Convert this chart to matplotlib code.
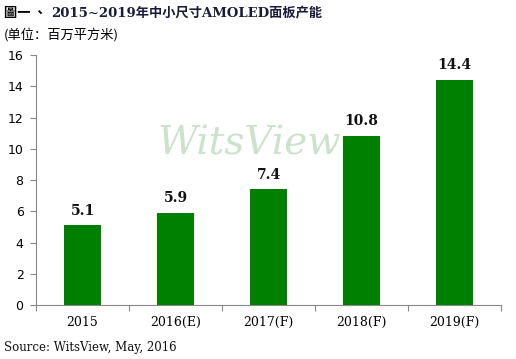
import matplotlib
matplotlib.use("Agg")
import matplotlib.pyplot as plt

categories = ["2015", "2016(E)", "2017(F)", "2018(F)", "2019(F)"]
values = [5.1, 5.9, 7.4, 10.8, 14.4]
yticks = [0, 2, 4, 6, 8, 10, 12, 14, 16]

fig = plt.figure(figsize=(5.16, 3.59), dpi=100)
ax = fig.add_axes([0.0698, 0.1504, 0.9012, 0.6964])

x = list(range(len(categories)))
bars = ax.bar(x, values, width=0.4, color="#008000", zorder=3)
for xi, v in zip(x, values):
    ax.text(xi, v + 0.5, f"{v}", ha="center", va="bottom", fontsize=10,
            fontweight="bold", family="DejaVu Serif", color="#111111")

ax.set_xlim(-0.5, len(categories) - 0.5)
ax.set_ylim(0, 16)
ax.set_yticks(yticks)
ax.set_yticklabels([str(t) for t in yticks], fontsize=9, family="DejaVu Sans")
ax.set_xticks([i - 0.5 for i in range(len(categories) + 1)], minor=False)
ax.set_xticklabels([""] * (len(categories) + 1))
ax.set_xticks(x, minor=True)
ax.set_xticklabels(categories, minor=True, fontsize=9, family="DejaVu Serif")
ax.tick_params(axis="x", which="minor", length=0, pad=8)
ax.tick_params(axis="x", which="major", length=4, color="#888888", direction="out")
ax.tick_params(axis="y", length=4, color="#888888", direction="out", pad=5)
for s in ["top", "right"]:
    ax.spines[s].set_visible(False)
for s in ["left", "bottom"]:
    ax.spines[s].set_color("#888888")

# watermark
fig.text(0.482, 0.6, "WitsView", ha="center", va="center", fontsize=28,
         family="DejaVu Serif", style="italic", color="#a9cfa9", alpha=0.6, zorder=10)

fig.text(0.008, 0.965, "圖一 、", ha="left", va="center", fontsize=9.5,
         fontweight="bold", family=["Noto Sans CJK TC", "DejaVu Sans"], color="black")
fig.text(0.099, 0.965, "2015~2019年中小尺寸AMOLED面板产能", ha="left", va="center",
         fontsize=9.5, fontweight="bold", family=["DejaVu Serif", "Noto Sans CJK SC"], color="#1a1a3a")
fig.text(0.008, 0.905, "(单位：百万平方米)", ha="left", va="center", fontsize=9.5,
         family=["Noto Sans CJK SC", "DejaVu Sans"], color="black")
fig.text(0.008, 0.033, "Source: WitsView, May, 2016", ha="left", va="center", fontsize=8.5,
         family="DejaVu Serif", color="#111111")

fig.savefig("out.png", dpi=100)
